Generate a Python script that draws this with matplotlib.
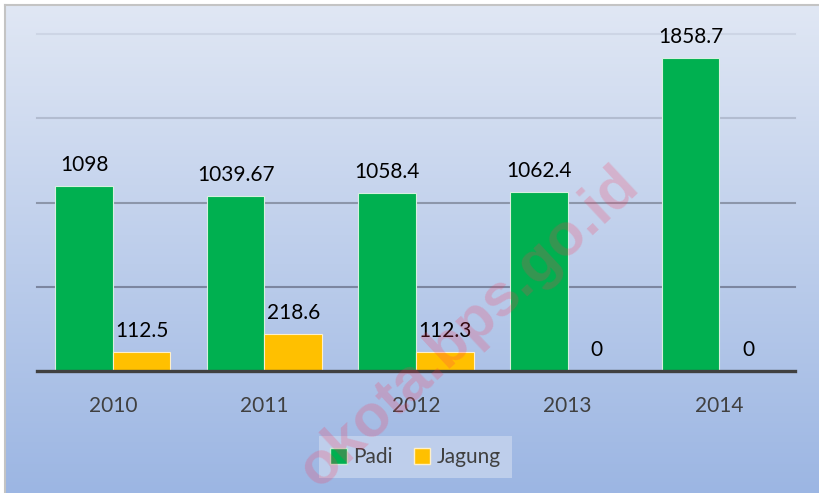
import numpy as np
import matplotlib
matplotlib.use("Agg")
import matplotlib.pyplot as plt
from matplotlib.patches import Patch
from matplotlib.lines import Line2D

plt.rcParams['font.family'] = ['Lato', 'DejaVu Sans']

years = ["2010", "2011", "2012", "2013", "2014"]
padi = [1098, 1039.67, 1058.4, 1062.4, 1858.7]
jagung = [112.5, 218.6, 112.3, 0, 0]
padi_labels = ["1098", "1039.67", "1058.4", "1062.4", "1858.7"]
jagung_labels = ["112.5", "218.6", "112.3", "0", "0"]

W, H = 819, 493
fig = plt.figure(figsize=(W / 100, H / 100), dpi=100)
fig.patch.set_facecolor("white")

# gradient background with thin border at top/left
bg = fig.add_axes([6 / W, 0, 1 - 6 / W, 1 - 6 / H])
top = np.array([0xe0, 0xe7, 0xf4]) / 255
bot = np.array([0x9c, 0xb6, 0xe3]) / 255
t = np.linspace(0, 1, 256)[:, None]
grad = top + (bot - top) * t
bg.imshow(grad[:, None, :].repeat(2, axis=1), aspect="auto", extent=[0, 1, 0, 1])
bg.set_xlim(0, 1)
bg.set_ylim(0, 1)
bg.axis("off")
fig.add_artist(Line2D([5 / W, 1], [1 - 5 / H, 1 - 5 / H], color="#c4c4c4", lw=1.5))
fig.add_artist(Line2D([5 / W, 5 / W], [0, 1 - 5 / H], color="#c4c4c4", lw=1.5))

ax = fig.add_axes([37 / W, 122 / H, 758 / W, 337 / H])
ax.patch.set_alpha(0)
x = np.arange(len(years))
w = 0.38

grid_colors = {2000: "#cdd5e5", 1500: "#b2bcd0", 1000: "#8c96aa", 500: "#7c86a0"}
for v, c in grid_colors.items():
    ax.axhline(v, color=c, lw=1.5, zorder=1, clip_on=False)
ax.axhline(0, color="#404040", lw=2.4, zorder=4, clip_on=False)

b1 = ax.bar(x - w, padi, w, align="edge", color="#00b050", edgecolor="#d8f0e0", lw=0.8, zorder=3)
b2 = ax.bar(x, jagung, w, align="edge", color="#ffc000", edgecolor="#fff0c8", lw=0.8, zorder=3)

for bars, labs in ((b1, padi_labels), (b2, jagung_labels)):
    for r, lab in zip(bars, labs):
        ax.annotate(lab, (r.get_x() + r.get_width() / 2, r.get_height()),
                    xytext=(0, 8), textcoords="offset points", ha="center", va="bottom",
                    fontsize=15, color="black", zorder=5)

ax.set_xlim(-0.5, len(years) - 0.5)
ax.set_ylim(0, 2000)
ax.set_xticks(x)
ax.set_xticklabels(years, fontsize=15, color="#404040")
ax.tick_params(axis="x", length=0, pad=18)
ax.set_yticks([])
for s in ax.spines.values():
    s.set_visible(False)

handles = [Patch(facecolor="#00b050", edgecolor="#c8ecd4"), Patch(facecolor="#ffc000", edgecolor="#fff0c8")]
leg = fig.legend(handles, ["Padi", "Jagung"], loc="center", bbox_to_anchor=(415.5 / W, 36 / H),
                 ncol=2, fontsize=15, frameon=True, fancybox=False, handlelength=0.8,
                 handleheight=0.8, handletextpad=0.3, columnspacing=1.0, borderpad=0.55)
leg.get_frame().set_facecolor("#c6d4ee")
leg.get_frame().set_alpha(0.8)
leg.get_frame().set_edgecolor("none")
for txt in leg.get_texts():
    txt.set_color("#404040")

# watermark
fig.text(469 / W, 1 - 327 / H, "okota.bps.go.id", rotation=43, rotation_mode="anchor",
         ha="center", va="center", fontsize=43, fontweight="bold",
         family=["Liberation Sans", "DejaVu Sans"], color="#ff3355", alpha=0.22, zorder=10)

fig.savefig("out.png", dpi=100)
